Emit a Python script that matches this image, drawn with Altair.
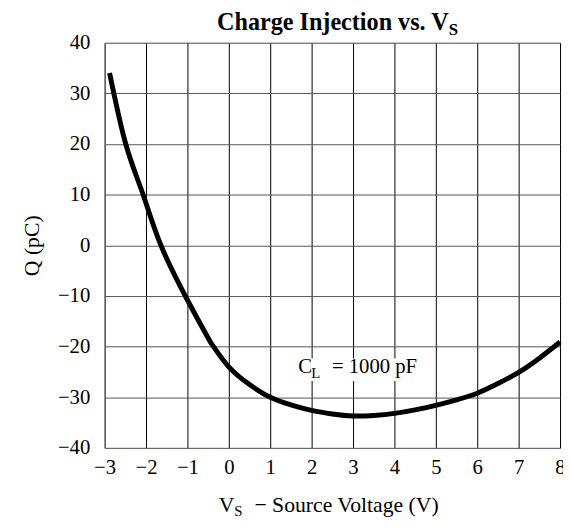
import altair as alt
import pandas as pd

# ---- data ----
vs = [-2.88, -2.49, -2.07, -1.64, -1.0, -0.5, -0.37, 0.0, 0.5, 1.0, 1.5, 2.0,
      2.5, 3.0, 3.5, 4.0, 4.5, 5.0, 5.5, 6.0, 6.5, 7.0, 7.5, 8.0]
q = [34.0, 20.0, 10.0, 0.0, -10.8, -18.3, -20.0, -24.0, -27.5, -30.0, -31.5, -32.6,
     -33.3, -33.7, -33.6, -33.2, -32.5, -31.6, -30.5, -29.2, -27.3, -25.1, -22.3, -19.1]
x_ticks = list(range(-3, 9))
y_ticks = list(range(-40, 41, 10))

note_main = ["C"]
note_sub = ["L"]
note_rest = ["= 1000 pF"]
note_x = [1.68]
note_y = [-25.3]
box_x = [1.62]
box_x2 = [4.76]
box_y = [-22.35]
box_y2 = [-26.8]

title_main = "Charge Injection vs. V"
title_sub = "S"
xtitle_main = "V"
xtitle_sub = "S"
xtitle_rest = "\u2212 Source Voltage (V)"
ytitle = "Q (pC)"

FONT = "Liberation Serif"
W, H = 462, 411

curve_df = pd.DataFrame({"vs": vs, "q": q})
note_df = pd.DataFrame({"x": note_x, "y": note_y, "main": note_main,
                        "sub": note_sub, "rest": note_rest})
box_df = pd.DataFrame({"x": box_x, "x2": box_x2, "y": box_y, "y2": box_y2})
one = pd.DataFrame({"a": [0]})

xscale = alt.Scale(domain=[-3, 8], nice=False, zero=False)
yscale = alt.Scale(domain=[-40, 40], nice=False, zero=False)

xaxis = alt.Axis(values=x_ticks, title=None, grid=True, gridColor="black", gridWidth=1,
                 gridOpacity=1, ticks=False, domain=False, labelFont=FONT, labelFontSize=21,
                 labelColor="black", labelPadding=9, labelFlush=False, labelOverlap=False)
yaxis = alt.Axis(values=y_ticks, title=ytitle, grid=True, gridColor="#555555", gridWidth=1,
                 gridOpacity=1, ticks=False, domain=False, labelFont=FONT, labelFontSize=21,
                 labelColor="black", labelPadding=15, labelOverlap=False,
                 titleFont=FONT, titleFontSize=22, titleFontWeight="normal",
                 titleColor="black", titlePadding=14)

line = alt.Chart(curve_df).mark_line(color="black", strokeWidth=5,
                                     interpolate="natural").encode(
    x=alt.X("vs:Q", scale=xscale, axis=xaxis),
    y=alt.Y("q:Q", scale=yscale, axis=yaxis),
)

box = alt.Chart(box_df).mark_rect(color="white").encode(
    x=alt.X("x:Q", scale=xscale), x2="x2:Q",
    y=alt.Y("y:Q", scale=yscale), y2="y2:Q",
)

note_c = alt.Chart(note_df).mark_text(font=FONT, fontSize=21, align="left",
                                      baseline="alphabetic", color="black").encode(
    x=alt.X("x:Q", scale=xscale), y=alt.Y("y:Q", scale=yscale), text="main:N")
note_l = alt.Chart(note_df).mark_text(font=FONT, fontSize=15, align="left",
                                      baseline="alphabetic", color="black",
                                      dx=13, dy=5).encode(
    x=alt.X("x:Q", scale=xscale), y=alt.Y("y:Q", scale=yscale), text="sub:N")
note_r = alt.Chart(note_df).mark_text(font=FONT, fontSize=21, align="left",
                                      baseline="alphabetic", color="black",
                                      dx=34).encode(
    x=alt.X("x:Q", scale=xscale), y=alt.Y("y:Q", scale=yscale), text="rest:N")

t1 = alt.Chart(one).mark_text(text=title_main, font=FONT, fontSize=24.5, fontWeight="bold",
                              align="right", baseline="alphabetic", color="black").encode(
    x=alt.value(349), y=alt.value(-12.5))
t2 = alt.Chart(one).mark_text(text=title_sub, font=FONT, fontSize=17, fontWeight="bold",
                              align="left", baseline="alphabetic", color="black").encode(
    x=alt.value(349), y=alt.value(-7.5))

xt1 = alt.Chart(one).mark_text(text=xtitle_main, font=FONT, fontSize=22,
                               align="right", baseline="alphabetic", color="black").encode(
    x=alt.value(131.6), y=alt.value(476))
xt2 = alt.Chart(one).mark_text(text=xtitle_sub, font=FONT, fontSize=15,
                               align="left", baseline="alphabetic", color="black").encode(
    x=alt.value(131.6), y=alt.value(480.5))
xt3 = alt.Chart(one).mark_text(text=xtitle_rest, font=FONT, fontSize=22,
                               align="left", baseline="alphabetic", color="black").encode(
    x=alt.value(152), y=alt.value(476))

chart = alt.layer(line, box, note_c, note_l, note_r, t1, t2, xt1, xt2, xt3).properties(
    width=W, height=H,
    autosize=alt.AutoSizeParams(type="none"),
    padding={"left": 98, "top": 31.5, "right": 3, "bottom": 72.5},
).configure_view(stroke="black", strokeWidth=1.2).configure(background="white")

chart.save("out.html", embed_options={"renderer": "svg", "actions": False})
